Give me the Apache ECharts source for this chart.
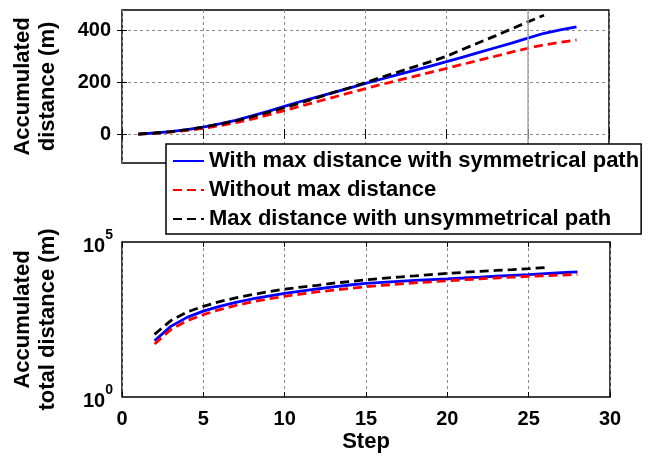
<!DOCTYPE html>
<html>
<head>
<meta charset="utf-8">
<script src="https://cdn.jsdelivr.net/npm/echarts@6/dist/echarts.min.js"></script>
<style>
  html, body { margin: 0; padding: 0; background: #fff; }
  #chart { width: 649px; height: 457px; }
</style>
</head>
<body>
<div id="chart"></div>
<script>
// Series names (legend order)
const seriesNames = [
  'With max distance with symmetrical path',
  'Without max distance',
  'Max distance with unsymmetrical path'
];

// Upper panel: accumulated distance per step (m)
const stepsDist = [1,2,3,4,5,6,7,8,9,10,11,12,13,14,15,16,17,18,19,20,21,22,23,24,25,26,27,28];
const stepsDistUnsym = [1,2,3,4,5,6,7,8,9,10,11,12,13,14,15,16,17,18,19,20,21,22,23,24,25,26];
const distSym   = [0,4,9,17,27,39,53,70,88,107,126,143,160,178,196,213,230,246,263,280,298,316,334,352,371,390,403,415];
const distNoMax = [0,3,8,14,22,32,44,58,74,91,108,125,142,159,176,192,208,223,239,254,270,286,301,317,332,345,355,364];
const distUnsym = [0,4,9,17,27,38,51,67,84,102,121,140,160,179,199,220,240,260,280,301,328,354,380,407,434,460];

// Lower panel: accumulated total distance per step (m, log scale)
const stepsTotal = [2,3,4,5,6,7,8,9,10,11,12,13,14,15,16,17,18,19,20,21,22,23,24,25,26,27,28];
const stepsTotalUnsym = [2,3,4,5,6,7,8,9,10,11,12,13,14,15,16,17,18,19,20,21,22,23,24,25,26];
const totalSym   = [65,190,370,590,840,1130,1450,1810,2200,2600,3050,3550,4100,4600,5000,5400,5800,6150,6500,6900,7350,7850,8350,8850,9500,10200,10900];
const totalNoMax = [51,148,290,452,660,900,1170,1460,1770,2100,2450,2800,3200,3600,4000,4400,4800,5200,5650,6050,6450,6900,7350,7800,8200,8600,9000];
const totalUnsym = [105,290,550,840,1200,1580,2000,2500,3000,3500,4000,4700,5300,6000,6700,7400,8100,8900,9700,10500,11300,12100,12900,13800,15000];

// Axis ticks
const distTicks = [0, 200, 400];

const FONT = "'Liberation Sans', Arial, Helvetica, sans-serif";
const pairs = (xs, ys) => xs.map((x, i) => [x, ys[i]]);

const gridLine = { show: true, lineStyle: { color: '#8a8a8a', width: 1, type: [3, 3] } };
const tickIn = { show: true, inside: true, length: 5, lineStyle: { color: '#000', width: 1 } };

const chart = echarts.init(document.getElementById('chart'), null, { renderer: 'canvas' });

const lineBase = { type: 'line', symbol: 'none', smooth: false, animation: false };
const styleSym   = { color: '#0000ff', width: 2.8, type: 'solid' };
const styleNoMax = { color: '#ff0000', width: 2.8, type: [9, 5] };
const styleUnsym = { color: '#000000', width: 2.8, type: [9, 5] };

chart.setOption({
  animation: false,
  backgroundColor: '#fff',
  textStyle: { fontFamily: FONT },
  grid: [
    { left: 122, top: 10, width: 487, height: 153, show: true, borderColor: '#000', borderWidth: 1.5, backgroundColor: 'transparent' },
    { left: 122, top: 242, width: 488, height: 155, show: true, borderColor: '#000', borderWidth: 1.5, backgroundColor: 'transparent' }
  ],
  xAxis: [
    { gridIndex: 0, type: 'value', min: 0, max: 30, interval: 5,
      axisLine: { show: false }, axisTick: tickIn, axisLabel: { show: false }, splitLine: gridLine },
    { gridIndex: 1, type: 'value', min: 0, max: 30, interval: 5,
      axisLine: { show: false }, axisTick: tickIn, splitLine: gridLine,
      axisLabel: { show: true, margin: 12, color: '#000', fontSize: 20, fontWeight: 'bold', fontFamily: FONT },
      name: 'Step', nameLocation: 'middle', nameGap: 34,
      nameTextStyle: { color: '#000', fontSize: 22, fontWeight: 'bold', fontFamily: FONT } },
    // mirrored ticks on the top edges
    { gridIndex: 0, type: 'value', position: 'top', min: 0, max: 30, interval: 5,
      axisLine: { show: false }, axisTick: tickIn, axisLabel: { show: false }, splitLine: { show: false } },
    { gridIndex: 1, type: 'value', position: 'top', min: 0, max: 30, interval: 5,
      axisLine: { show: false }, axisTick: tickIn, axisLabel: { show: false }, splitLine: { show: false } }
  ],
  yAxis: [
    { gridIndex: 0, type: 'value', min: -112, max: 480,
      axisLine: { show: false },
      axisTick: Object.assign({}, tickIn, { customValues: distTicks }),
      axisLabel: { show: true, customValues: distTicks, margin: 11, color: '#000', fontSize: 20, fontWeight: 'bold', fontFamily: FONT },
      splitLine: gridLine,
      name: 'Accumulated\ndistance (m)', nameLocation: 'middle', nameRotate: 90, nameGap: 62,
      nameTextStyle: { color: '#000', fontSize: 22, fontWeight: 'bold', fontFamily: FONT, lineHeight: 25 } },
    { gridIndex: 1, type: 'log', logBase: 10, min: 1, max: 100000,
      axisLine: { show: false }, axisTick: { show: false }, splitLine: { show: false },
      axisLabel: {
        show: true, margin: 9, color: '#000',
        formatter: v => (Math.abs(v - 1) < 1e-9 ? '{b|10}{s|0}' : (Math.abs(v - 100000) < 1e-3 ? '{b|10}{s|5}' : '')),
        rich: {
          b: { fontSize: 20, fontWeight: 'bold', fontFamily: FONT, color: '#000', padding: [8, 0, 0, 0] },
          s: { fontSize: 14, fontWeight: 'bold', fontFamily: FONT, color: '#000', verticalAlign: 'top' }
        }
      },
      name: 'Accumulated\ntotal distance (m)', nameLocation: 'middle', nameRotate: 90, nameGap: 62,
      nameTextStyle: { color: '#000', fontSize: 22, fontWeight: 'bold', fontFamily: FONT, lineHeight: 25 } },
    // mirrored ticks on the right edge of the upper panel
    { gridIndex: 0, type: 'value', position: 'right', min: -112, max: 480,
      axisLine: { show: false },
      axisTick: Object.assign({}, tickIn, { customValues: distTicks }),
      axisLabel: { show: false }, splitLine: { show: false } }
  ],
  legend: {
    orient: 'vertical', left: 166, top: 144,
    padding: [6, 2, 4, 6], itemGap: 7, itemWidth: 31, itemHeight: 14,
    backgroundColor: '#fff', borderColor: '#000', borderWidth: 1.5, borderRadius: 0,
    itemStyle: { opacity: 0 },
    textStyle: { color: '#000', fontSize: 22, fontWeight: 'bold', fontFamily: FONT },
    data: seriesNames,
    z: 10
  },
  series: [
    Object.assign({}, lineBase, { name: seriesNames[0], xAxisIndex: 0, yAxisIndex: 0,
      data: pairs(stepsDist, distSym), lineStyle: styleSym, itemStyle: { color: styleSym.color },
      markLine: { silent: true, symbol: 'none', label: { show: false },
        lineStyle: { color: '#a8a8a8', type: 'solid', width: 1.5 }, data: [{ xAxis: 25 }] } }),
    Object.assign({}, lineBase, { name: seriesNames[1], xAxisIndex: 0, yAxisIndex: 0,
      data: pairs(stepsDist, distNoMax), lineStyle: styleNoMax, itemStyle: { color: styleNoMax.color } }),
    Object.assign({}, lineBase, { name: seriesNames[2], xAxisIndex: 0, yAxisIndex: 0,
      data: pairs(stepsDistUnsym, distUnsym), lineStyle: styleUnsym, itemStyle: { color: styleUnsym.color } }),
    Object.assign({}, lineBase, { name: seriesNames[0], xAxisIndex: 1, yAxisIndex: 1,
      data: pairs(stepsTotal, totalSym), lineStyle: styleSym, itemStyle: { color: styleSym.color } }),
    Object.assign({}, lineBase, { name: seriesNames[1], xAxisIndex: 1, yAxisIndex: 1,
      data: pairs(stepsTotal, totalNoMax), lineStyle: styleNoMax, itemStyle: { color: styleNoMax.color } }),
    Object.assign({}, lineBase, { name: seriesNames[2], xAxisIndex: 1, yAxisIndex: 1,
      data: pairs(stepsTotalUnsym, totalUnsym), lineStyle: styleUnsym, itemStyle: { color: styleUnsym.color } })
  ]
});
</script>
</body>
</html>
